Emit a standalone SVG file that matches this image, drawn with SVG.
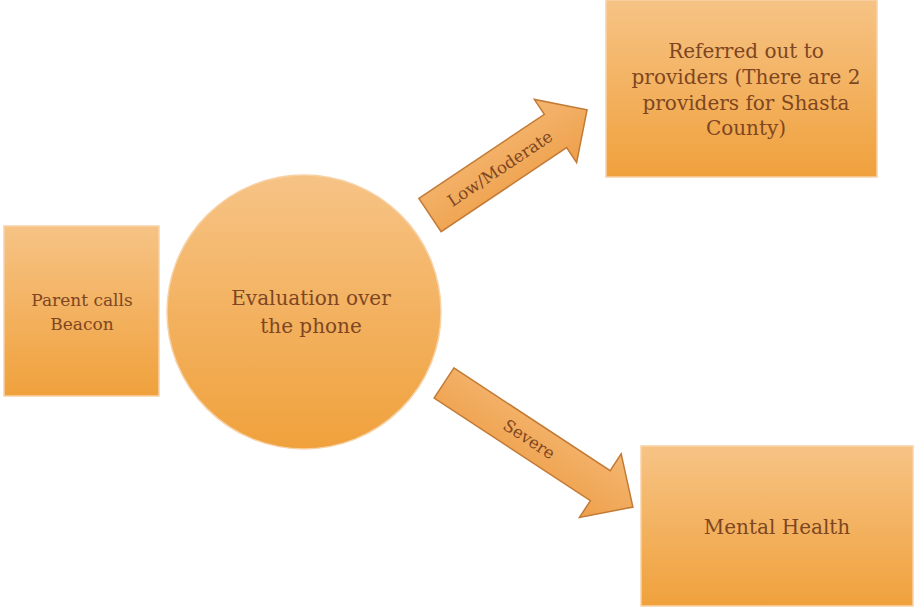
<svg xmlns="http://www.w3.org/2000/svg" width="914" height="608" viewBox="0 0 914 608">
<defs>
<linearGradient id="g" x1="0" y1="0" x2="0" y2="1">
<stop offset="0" stop-color="#f6c385"/>
<stop offset="1" stop-color="#f0a13c"/>
</linearGradient>
<linearGradient id="ga" x1="0" y1="0" x2="0" y2="1">
<stop offset="0" stop-color="#f4b671"/>
<stop offset="1" stop-color="#eea04a"/>
</linearGradient>
</defs>
<style>
.n{fill:url(#g);stroke:#f7d2a6;stroke-width:1.5}
.t{font-family:"DejaVu Serif","Liberation Serif",serif;fill:#7e4622;text-anchor:middle}
.a{fill:url(#ga);stroke:#c27a35;stroke-width:1.5}
</style>
<rect width="914" height="608" fill="#ffffff"/>
<g id="connectors">
<g transform="translate(430,215) rotate(-33.8)">
<polygon class="a" points="0,-20 151,-20 151,-38 189,0 151,38 151,20 0,20"/>
<text class="t" x="84" y="6" font-size="16.5">Low/Moderate</text>
</g>
<g transform="translate(444,383) rotate(33.3)">
<polygon class="a" points="0,-18 187,-18 187,-38 226,0 187,38 187,18 0,18"/>
<text class="t" x="102" y="6" font-size="16.5">Severe</text>
</g>
</g>
<g id="parent">
<rect class="n" x="4" y="226" width="155" height="170"/>
<text class="t" x="82" y="306" font-size="17">Parent calls</text>
<text class="t" x="82" y="330" font-size="17">Beacon</text>
</g>
<g id="evaluation">
<circle class="n" cx="304" cy="312" r="137"/>
<text class="t" x="311" y="305" font-size="20">Evaluation over</text>
<text class="t" x="311" y="333" font-size="20">the phone</text>
</g>
<g id="referred">
<rect class="n" x="606" y="0" width="271" height="177"/>
<text class="t" x="746" y="58" font-size="20">Referred out to</text>
<text class="t" x="746" y="84" font-size="20">providers (There are 2</text>
<text class="t" x="746" y="110" font-size="20">providers for Shasta</text>
<text class="t" x="746" y="135" font-size="20">County)</text>
</g>
<g id="mental">
<rect class="n" x="641" y="446" width="272" height="160"/>
<text class="t" x="777" y="534" font-size="20">Mental Health</text>
</g>
</svg>
